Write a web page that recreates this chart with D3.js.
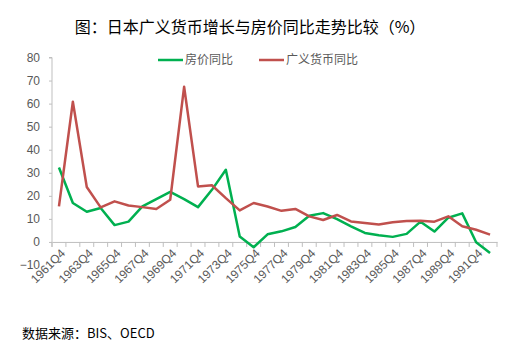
<!DOCTYPE html>
<html><head><meta charset="utf-8">
<script src="https://cdn.jsdelivr.net/npm/d3@7/dist/d3.min.js"></script>
<style>body{margin:0;background:#fff;}svg{display:block;}</style>
</head><body>
<svg id="c" width="510" height="358"></svg>
<script>
const years = d3.range(1961, 1993);
const categories = years.map(y => y + "Q4");
const housePrice = [32.3,16.9,13.1,14.7,7.3,8.8,15.4,18.6,21.7,18.6,15.1,22.6,31.3,2.4,-2.3,3.3,4.6,6.5,11.4,12.5,9.9,6.8,3.9,2.9,2.2,3.5,8.8,4.5,10.5,12.4,-0.1,-4.8];
const broadMoney = [15.4,60.8,23.8,15.0,17.6,15.8,15.1,14.3,18.3,67.3,24.1,24.6,19.0,13.7,16.9,15.4,13.5,14.3,11.1,9.5,11.7,8.9,8.2,7.6,8.5,9.1,9.2,8.8,11.1,6.8,5.3,3.2];
const yTicks = [-10,0,10,20,30,40,50,60,70,80];
const xTickLabels = categories.filter((c,i) => i % 2 === 0);
const seriesNames = ["房价同比","广义货币同比"];
const seriesColors = ["#00B050","#C0504D"];

const svg = d3.select("#c");
const mLeft = 52, mRight = 497, mTop = 57.5, mBottom = 265;
const x = d3.scaleBand().domain(categories).range([mLeft, mRight]);
const y = d3.scaleLinear().domain([-10, 80]).range([mBottom, mTop]);
const font = "'Liberation Sans', Arial, sans-serif";
const grey = "#595959", axisCol = "#BFBFBF";

svg.append("text").attr("x", 250).attr("y", 33).attr("text-anchor","middle")
  .attr("font-family","'Noto Sans CJK SC', sans-serif").attr("font-size", 16).attr("fill","#000")
  .text("图：日本广义货币增长与房价同比走势比较（%）");

// y axis
const yAxis = svg.append("g").attr("transform", `translate(${mLeft},0)`)
  .call(d3.axisLeft(y).tickValues(yTicks).tickSize(3).tickPadding(9));
yAxis.select(".domain").attr("stroke", axisCol).attr("d", `M-3,${y(80)}H0V${y(0)+5}`);
yAxis.selectAll(".tick line").attr("stroke", axisCol);
yAxis.selectAll(".tick text").attr("font-family", font).attr("font-size", 12).attr("fill", grey);

// x axis at zero
const xAxis = svg.append("g").attr("transform", `translate(0,${y(0)})`)
  .call(d3.axisBottom(x).tickValues([]).tickSizeOuter(0));
xAxis.select(".domain").attr("stroke", axisCol);
const bounds = categories.map(c => x(c)).concat([mRight]);
xAxis.selectAll(".bt").data(bounds).enter().append("line")
  .attr("x1", d => d).attr("x2", d => d).attr("y1", 0).attr("y2", 5).attr("stroke", axisCol);
xAxis.selectAll(".xl").data(xTickLabels).enter().append("text")
  .attr("transform", d => `translate(${x(d) + x.bandwidth()/2 + 4},${9}) rotate(-45)`)
  .attr("text-anchor","end").attr("dy","0.35em")
  .attr("font-family", font).attr("font-size", 12).attr("fill", grey).text(d => d);

// lines
const line = d3.line().x((d,i) => x(categories[i]) + x.bandwidth()/2).y(d => y(d));
[housePrice, broadMoney].forEach((s, k) => {
  svg.append("path").datum(s).attr("d", line).attr("fill","none")
    .attr("stroke", seriesColors[k]).attr("stroke-width", 2.5).attr("stroke-linejoin","round");
});

// legend
const lg = [[158, 183], [259, 284]];
seriesNames.forEach((n, k) => {
  svg.append("line").attr("x1", lg[k][0]).attr("x2", lg[k][1]).attr("y1", 60).attr("y2", 60)
    .attr("stroke", seriesColors[k]).attr("stroke-width", 2.5);
  svg.append("text").attr("x", lg[k][1] + 2).attr("y", 60).attr("dy","0.35em")
    .attr("font-family","'Noto Sans CJK SC', sans-serif").attr("font-size", 12).attr("fill", grey).text(n);
});

svg.append("text").attr("x", 22).attr("y", 338)
  .attr("font-family","'Noto Sans CJK SC', sans-serif").attr("font-size", 13).attr("fill","#000")
  .text("数据来源：BIS、OECD");
</script>
</body></html>
